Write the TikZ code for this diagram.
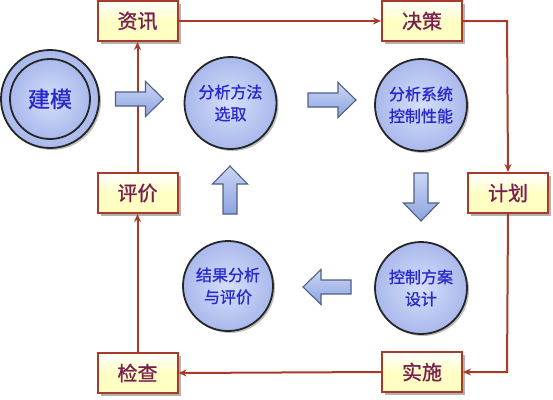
\documentclass[tikz,border=0pt]{standalone}
\usepackage{fontspec}
\newfontfamily\cjk{Noto Sans CJK SC}
\newfontfamily\cjkb{Noto Sans CJK SC}[FakeBold=1.2]
\usetikzlibrary{shadows,arrows.meta}
\definecolor{boxline}{HTML}{A83A28}
\definecolor{boxfill}{HTML}{FFFFC4}
\definecolor{boxtext}{HTML}{7A1E50}
\definecolor{balltext}{HTML}{2A2ACC}
\definecolor{ballin}{HTML}{D6DEFA}
\definecolor{ballout}{HTML}{A9B9EC}
\definecolor{arrline}{HTML}{4F5F86}
\definecolor{arrlight}{HTML}{CAD6F6}
\definecolor{arrdark}{HTML}{8EA4E0}
\tikzset{
  stepbox/.style={draw=boxline, line width=2pt, top color=white, bottom color=boxfill, middle color=boxfill,
    minimum width=80pt, minimum height=40pt, inner sep=0pt, font=\cjkb\fontsize{20}{22}\selectfont, text=boxtext,
    drop shadow={shadow xshift=3pt, shadow yshift=-3pt, opacity=0.3, fill=black}},
  ball/.style={circle, draw=black!85, line width=1.8pt, inner color=ballin, outer color=ballout,
    minimum size=92pt, inner sep=0pt, align=center, font=\cjkb\fontsize{16}{22}\selectfont, text=balltext,
    drop shadow={shadow xshift=2pt, shadow yshift=-2pt, opacity=0.25, fill=black}},
  link/.style={draw=boxline, line width=2pt, -{Stealth[length=8pt,width=7pt]}},
  blockarr/.style={draw=arrline, line width=1.1pt, top color=arrlight, bottom color=arrdark, line join=miter},
  pics/blockarrow/.style={code={
    \path[blockarr] (-24,-7) -- (6,-7) -- (6,-17.5) -- (24,0) -- (6,17.5) -- (6,7) -- (-24,7) -- cycle;}}
}
\begin{document}
\begin{tikzpicture}[x=1pt,y=-1pt]
\useasboundingbox (0,0) rectangle (553,399);
% boxes
\node[stepbox] (zx) at (137.5,21) {资讯};
\node[stepbox] (jc) at (422,21) {决策};
\node[stepbox] (jh) at (508,193) {计划};
\node[stepbox] (pj) at (137.5,193) {评价};
\node[stepbox] (jcha) at (137.5,373) {检查};
\node[stepbox] (ss) at (422,372) {实施};
% connectors
\coordinate (c1) at (507,21);
\coordinate (c2) at (507,372);
\draw[link] (zx.east) -- (jc.west);
\draw[link] (jc.east) -- (c1) -- (jh.north);
\draw[link] (jh.south) -- (c2) -- (ss.east);
\draw[link] (ss.west) -- (jcha.east);
\draw[link] (jcha.north) -- (pj.south);
\draw[link] (pj.north) -- (zx.south);
% model circle
\node[ball, minimum size=98pt] (jmo) at (50,99) {};
\node[circle, draw=black!85, line width=1.8pt, minimum size=80pt, inner sep=0pt, inner color=ballin, outer color=ballout,
  font=\cjkb\fontsize{22}{24}\selectfont, text=balltext] (jm) at (50,99) {建模};
% balls
\node[ball] (b1) at (230.5,103) {分析方法\\选取};
\node[ball] (b2) at (421,105) {分析系统\\控制性能};
\node[ball] (b3) at (421,288) {控制方案\\设计};
\node[ball, minimum size=90pt] (b4) at (228,286) {结果分析\\与评价};
% block arrows
\pic at (139.5,99) {blockarrow};
\pic at (332,100) {blockarrow};
\pic[rotate=-90] at (421,197) {blockarrow};
\pic[rotate=180] at (327,287) {blockarrow};
\pic[rotate=90] at (230,190) {blockarrow};
\end{tikzpicture}
\end{document}
